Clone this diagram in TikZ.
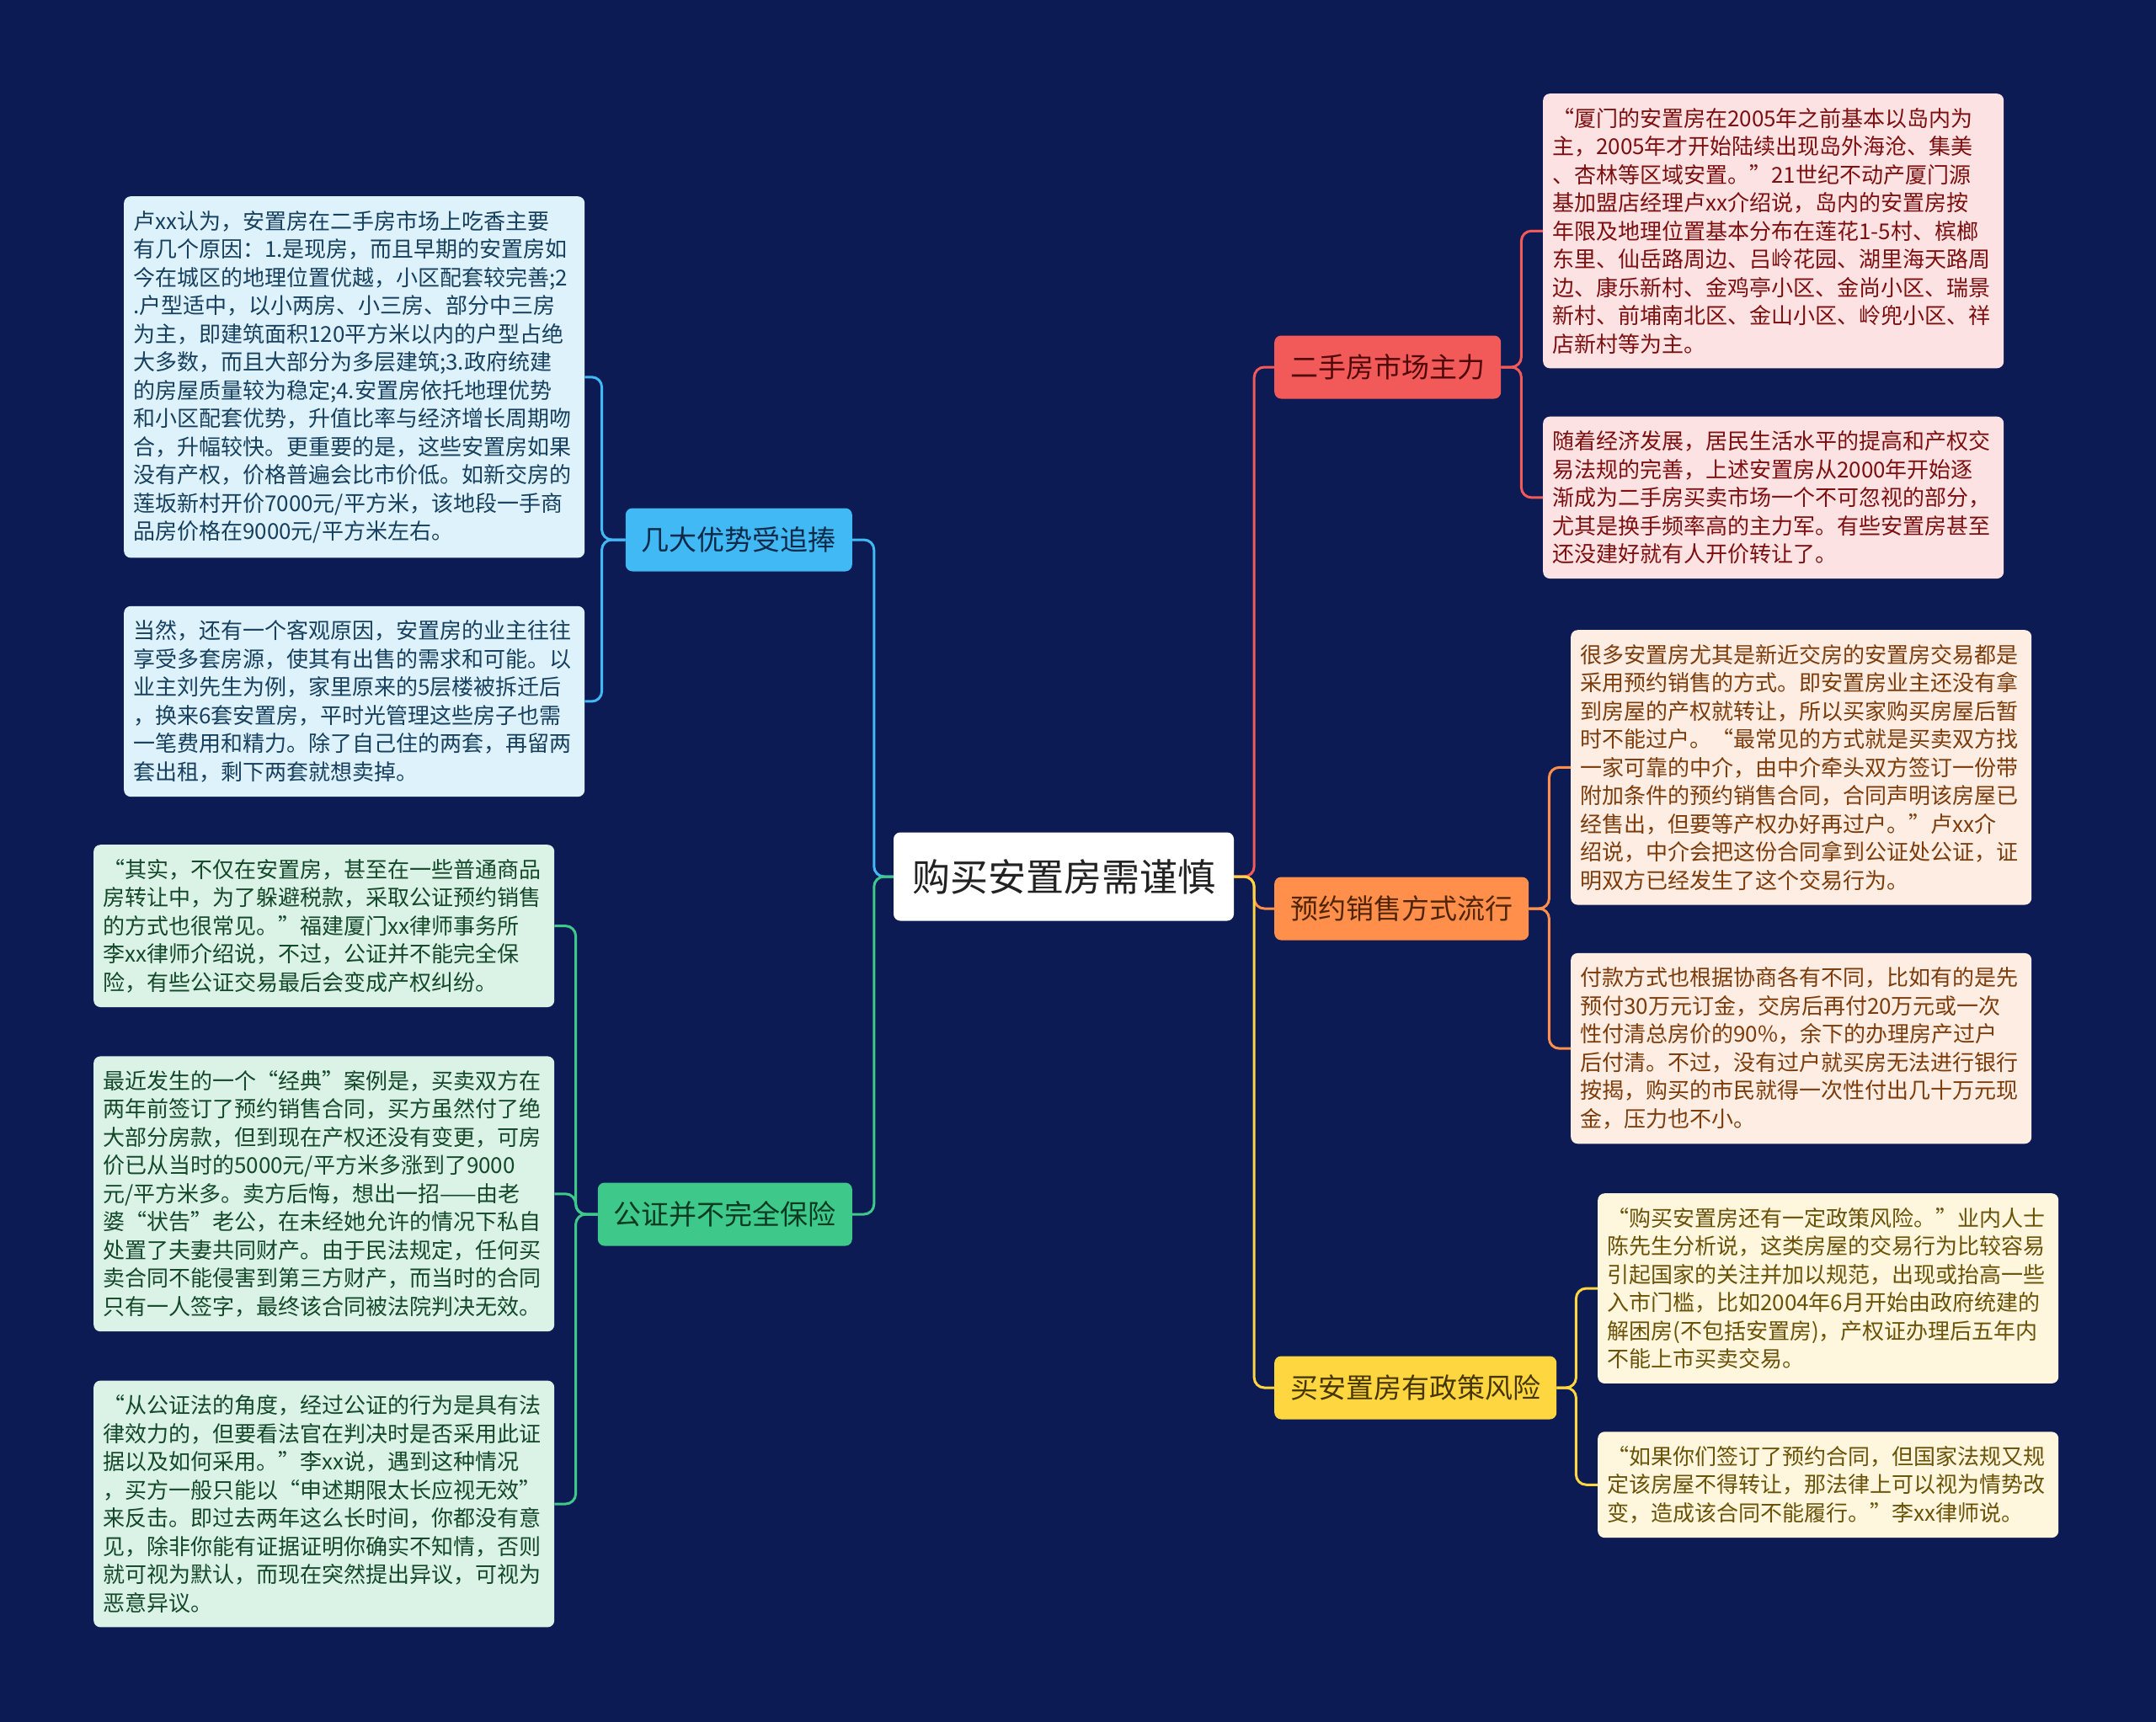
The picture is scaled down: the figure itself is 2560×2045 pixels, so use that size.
\documentclass[tikz,border=0pt]{standalone}
\usepackage{fontspec}
\setmainfont{Noto Sans CJK SC}
\usepackage{xcolor}
\usetikzlibrary{positioning}

\definecolor{bgnavy}{RGB}{13,27,84}
\definecolor{rootink}{RGB}{34,34,34}
\definecolor{cblue}{RGB}{64,185,245}
\definecolor{cgreen}{RGB}{62,201,138}
\definecolor{cred}{RGB}{242,90,90}
\definecolor{corange}{RGB}{255,143,74}
\definecolor{cyellow}{RGB}{254,214,63}
\definecolor{tblue}{RGB}{14,42,72}
\definecolor{tgreen}{RGB}{12,58,34}
\definecolor{tred}{RGB}{80,8,8}
\definecolor{torange}{RGB}{80,36,6}
\definecolor{tyellow}{RGB}{70,54,4}
\definecolor{lblue}{RGB}{222,242,252}
\definecolor{lgreen}{RGB}{219,243,230}
\definecolor{lred}{RGB}{253,226,227}
\definecolor{lorange}{RGB}{253,237,226}
\definecolor{lyellow}{RGB}{254,247,222}
\definecolor{dblue}{RGB}{22,64,94}
\definecolor{dgreen}{RGB}{20,72,42}
\definecolor{dred}{RGB}{124,16,16}
\definecolor{dorange}{RGB}{124,60,12}
\definecolor{dyellow}{RGB}{106,82,8}

\begin{document}
\begin{tikzpicture}[x=1pt, y=-1pt,
  node distance=57pt,
  root/.style={fill=white, text=rootink, rounded corners=8pt, minimum height=105pt, inner xsep=22pt, font=\fontsize{45}{54}\selectfont},
  branch/.style 2 args={fill=#1, text=#2, rounded corners=8pt, minimum height=75pt, inner xsep=19pt, font=\fontsize{33}{40}\selectfont},
  leaf/.style 2 args={fill=#1, text=#2, rounded corners=8pt, text width=525pt, inner xsep=11pt, inner ysep=17pt, align=left, font=\fontsize{26}{33.5}\selectfont},
  link/.style={draw=#1, line width=3pt, rounded corners=12pt}
]
\fill[bgnavy] (0,0) rectangle (2560,2045);
\useasboundingbox (0,0) rectangle (2560,2045);

\node[root] (root) at (1263,1041) {购买安置房需谨慎};

% left side
\node[branch={cblue}{tblue}, anchor=east] (merits) at (1012,641) {几大优势受追捧};
\node[branch={cgreen}{tgreen}, anchor=east] (notary) at (1012,1442) {公证并不完全保险};

% right side
\node[branch={cred}{tred}, anchor=west] (market) at (1513,436) {二手房市场主力};
\node[branch={corange}{torange}, anchor=west] (presale) at (1513,1079) {预约销售方式流行};
\node[branch={cyellow}{tyellow}, anchor=west] (policy) at (1513,1648) {买安置房有政策风险};

\node[leaf={lblue}{dblue}, anchor=north west] (reasons) at (147,233) {卢xx认为，安置房在二手房市场上吃香主要\\有几个原因：1.是现房，而且早期的安置房如\\今在城区的地理位置优越，小区配套较完善;2\\.户型适中，以小两房、小三房、部分中三房\\为主，即建筑面积120平方米以内的户型占绝\\大多数，而且大部分为多层建筑;3.政府统建\\的房屋质量较为稳定;4.安置房依托地理优势\\和小区配套优势，升值比率与经济增长周期吻\\合，升幅较快。更重要的是，这些安置房如果\\没有产权，价格普遍会比市价低。如新交房的\\莲坂新村开价7000元/平方米，该地段一手商\\品房价格在9000元/平方米左右。};
\node[leaf={lblue}{dblue}, below=57pt of reasons] (owners) {当然，还有一个客观原因，安置房的业主往往\\享受多套房源，使其有出售的需求和可能。以\\业主刘先生为例，家里原来的5层楼被拆迁后\\，换来6套安置房，平时光管理这些房子也需\\一笔费用和精力。除了自己住的两套，再留两\\套出租，剩下两套就想卖掉。};

\node[leaf={lgreen}{dgreen}, anchor=north west] (avoidtax) at (111,1003) {“其实，不仅在安置房，甚至在一些普通商品\\房转让中，为了躲避税款，采取公证预约销售\\的方式也很常见。”福建厦门xx律师事务所\\李xx律师介绍说，不过，公证并不能完全保\\险，有些公证交易最后会变成产权纠纷。};
\node[leaf={lgreen}{dgreen}, below=58pt of avoidtax] (classic) {最近发生的一个“经典”案例是，买卖双方在\\两年前签订了预约销售合同，买方虽然付了绝\\大部分房款，但到现在产权还没有变更，可房\\价已从当时的5000元/平方米多涨到了9000\\元/平方米多。卖方后悔，想出一招——由老\\婆“状告”老公，在未经她允许的情况下私自\\处置了夫妻共同财产。由于民法规定，任何买\\卖合同不能侵害到第三方财产，而当时的合同\\只有一人签字，最终该合同被法院判决无效。};
\node[leaf={lgreen}{dgreen}, below=58pt of classic] (notarylaw) {“从公证法的角度，经过公证的行为是具有法\\律效力的，但要看法官在判决时是否采用此证\\据以及如何采用。”李xx说，遇到这种情况\\，买方一般只能以“申述期限太长应视无效”\\来反击。即过去两年这么长时间，你都没有意\\见，除非你能有证据证明你确实不知情，否则\\就可视为默认，而现在突然提出异议，可视为\\恶意异议。};

\node[leaf={lred}{dred}, anchor=north west] (island) at (1832,111) {“厦门的安置房在2005年之前基本以岛内为\\主，2005年才开始陆续出现岛外海沧、集美\\、杏林等区域安置。”21世纪不动产厦门源\\基加盟店经理卢xx介绍说，岛内的安置房按\\年限及地理位置基本分布在莲花1-5村、槟榔\\东里、仙岳路周边、吕岭花园、湖里海天路周\\边、康乐新村、金鸡亭小区、金尚小区、瑞景\\新村、前埔南北区、金山小区、岭兜小区、祥\\店新村等为主。};
\node[leaf={lred}{dred}, below=57pt of island] (turnover) {随着经济发展，居民生活水平的提高和产权交\\易法规的完善，上述安置房从2000年开始逐\\渐成为二手房买卖市场一个不可忽视的部分，\\尤其是换手频率高的主力军。有些安置房甚至\\还没建好就有人开价转让了。};

\node[leaf={lorange}{dorange}, anchor=north west] (presell) at (1865,748) {很多安置房尤其是新近交房的安置房交易都是\\采用预约销售的方式。即安置房业主还没有拿\\到房屋的产权就转让，所以买家购买房屋后暂\\时不能过户。“最常见的方式就是买卖双方找\\一家可靠的中介，由中介牵头双方签订一份带\\附加条件的预约销售合同，合同声明该房屋已\\经售出，但要等产权办好再过户。”卢xx介\\绍说，中介会把这份合同拿到公证处公证，证\\明双方已经发生了这个交易行为。};
\node[leaf={lorange}{dorange}, below=57pt of presell] (payment) {付款方式也根据协商各有不同，比如有的是先\\预付30万元订金，交房后再付20万元或一次\\性付清总房价的90\%，余下的办理房产过户\\后付清。不过，没有过户就买房无法进行银行\\按揭，购买的市民就得一次性付出几十万元现\\金，压力也不小。};

\node[leaf={lyellow}{dyellow}, anchor=north west] (risk) at (1897,1417) {“购买安置房还有一定政策风险。”业内人士\\陈先生分析说，这类房屋的交易行为比较容易\\引起国家的关注并加以规范，出现或抬高一些\\入市门槛，比如2004年6月开始由政府统建的\\解困房(不包括安置房)，产权证办理后五年内\\不能上市买卖交易。};
\node[leaf={lyellow}{dyellow}, below=57pt of risk] (contract) {“如果你们签订了预约合同，但国家法规又规\\定该房屋不得转让，那法律上可以视为情势改\\变，造成该合同不能履行。”李xx律师说。};

% root to branches
\draw[link=cblue] (root.west) -- ++(-23,0) |- (merits.east);
\draw[link=cgreen] (root.west) -- ++(-23,0) |- (notary.east);
\draw[link=cred] (root.east) -- ++(24,0) |- (market.west);
\draw[link=corange] (root.east) -- ++(24,0) |- (presale.west);
\draw[link=cyellow] (root.east) -- ++(24,0) |- (policy.west);

% branches to leaves
\draw[link=cblue] (merits.west) -- ++(-28,0) |- (reasons.east);
\draw[link=cblue] (merits.west) -- ++(-28,0) |- (owners.east);
\draw[link=cgreen] (notary.west) -- ++(-26,0) |- (avoidtax.east);
\draw[link=cgreen] (notary.west) -- ++(-26,0) |- (classic.east);
\draw[link=cgreen] (notary.west) -- ++(-26,0) |- (notarylaw.east);
\draw[link=cred] (market.east) -- ++(24,0) |- (island.west);
\draw[link=cred] (market.east) -- ++(24,0) |- (turnover.west);
\draw[link=corange] (presale.east) -- ++(24,0) |- (presell.west);
\draw[link=corange] (presale.east) -- ++(24,0) |- (payment.west);
\draw[link=cyellow] (policy.east) -- ++(23,0) |- (risk.west);
\draw[link=cyellow] (policy.east) -- ++(23,0) |- (contract.west);
\end{tikzpicture}
\end{document}
